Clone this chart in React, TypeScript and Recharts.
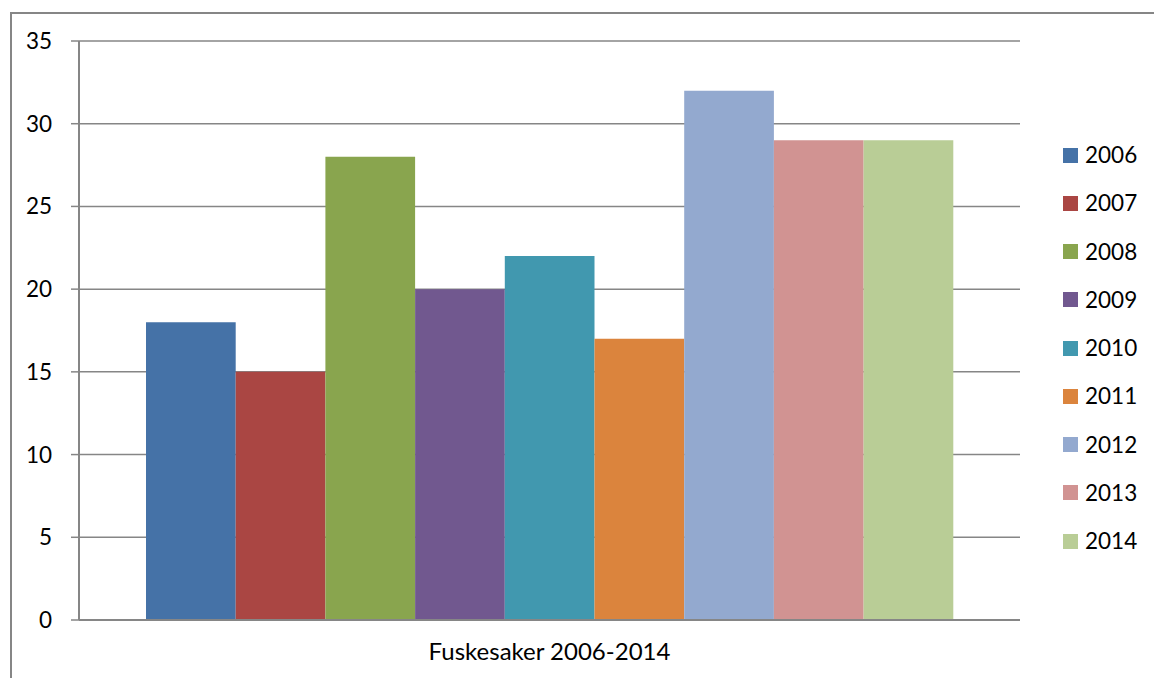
import React from "react";
import { BarChart, Bar, XAxis, YAxis, CartesianGrid, Legend } from "recharts";

const categories = ["Fuskesaker 2006-2014"];
const seriesNames = ["2006", "2007", "2008", "2009", "2010", "2011", "2012", "2013", "2014"];
const seriesValues = [18, 15, 28, 20, 22, 17, 32, 29, 29];
const seriesColors = ["#4572A7", "#AA4643", "#89A54E", "#71588F", "#4198AF", "#DB843D", "#93A9CF", "#D19392", "#B9CD96"];
const yTicks = [0, 5, 10, 15, 20, 25, 30, 35];

const data = categories.map((c) => {
  const row: Record<string, string | number> = { category: c };
  seriesNames.forEach((s, i) => {
    row[s] = seriesValues[i];
  });
  return row;
});

const FONT = "Lato, 'Open Sans', sans-serif";
const AXIS = "#868686";

const LegendContent = () => (
  <div style={{ fontFamily: FONT, fontSize: 22.5, color: "#000" }}>
    {seriesNames.map((s, i) => (
      <div key={s} style={{ height: 48.25, display: "flex", alignItems: "center" }}>
        <span style={{ display: "inline-block", width: 15, height: 15, background: seriesColors[i], marginRight: 7 }} />
        <span style={{ lineHeight: "22px" }}>{s}</span>
      </div>
    ))}
  </div>
);

export default function App() {
  return (
    <div style={{ position: "fixed", left: 0, top: 0, width: 1154, height: 678, background: "#fff", overflow: "hidden" }}>
      <div style={{ position: "absolute", left: 10, top: 12, width: 1200, height: 800, borderLeft: `2px solid ${AXIS}`, borderTop: `2px solid ${AXIS}`, boxSizing: "border-box" }} />
      <BarChart
        width={1154}
        height={678}
        data={data}
        margin={{ top: 41, right: 134, bottom: 18, left: 0 }}
        barSize={89.7}
        barGap={0}
        style={{ position: "absolute", left: 0, top: 0 }}
      >
        <CartesianGrid vertical={false} stroke={AXIS} strokeWidth={1.5} />
        <XAxis
          dataKey="category"
          height={40}
          tickLine={false}
          tickSize={0}
          tickMargin={23}
          axisLine={{ stroke: AXIS, strokeWidth: 2 }}
          tick={{ fill: "#000", fontSize: 24, fontFamily: FONT }}
        />
        <XAxis
          xAxisId="edge"
          type="number"
          domain={[0, 1]}
          ticks={[0, 1]}
          tick={false}
          axisLine={false}
          tickSize={7}
          height={0}
          tickLine={{ stroke: AXIS, strokeWidth: 1.5 }}
        />
        <YAxis
          domain={[0, 35]}
          ticks={yTicks}
          width={79}
          tickSize={8}
          tickMargin={19}
          axisLine={{ stroke: AXIS, strokeWidth: 2 }}
          tickLine={{ stroke: AXIS, strokeWidth: 1.5 }}
          tick={{ fill: "#000", fontSize: 22.5, fontFamily: FONT }}
        />
        <Legend
          layout="vertical"
          align="center"
          verticalAlign="middle"
          content={LegendContent}
          wrapperStyle={{ position: "absolute", left: 1063, top: 131, width: 90 }}
        />
        {seriesNames.map((s, i) => (
          <Bar key={s} dataKey={s} fill={seriesColors[i]} isAnimationActive={false} />
        ))}
      </BarChart>
    </div>
  );
}
